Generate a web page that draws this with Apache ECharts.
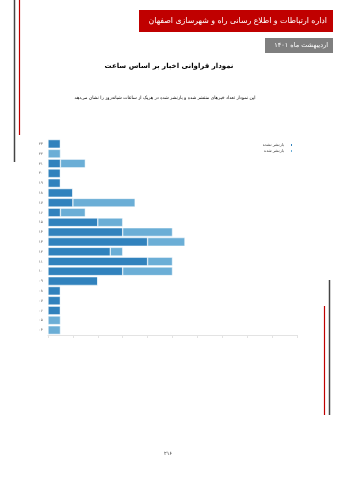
<!DOCTYPE html>
<html><head><meta charset="utf-8">
<script src="https://cdn.jsdelivr.net/npm/echarts@6/dist/echarts.min.js"></script>
<style>html,body{margin:0;padding:0;background:#fff}#c{width:339px;height:480px}</style>
</head><body><div id="c"></div>
<script>
// hours, top to bottom
var hours = ['۲۳','۲۲','۲۱','۲۰','۱۹','۱۸','۱۷','۱۶','۱۵','۱۴','۱۳','۱۲','۱۱','۱۰','۰۹','۰۸','۰۷','۰۶','۰۵','۰۴'];
var seriesNames = ['بازنشر نشده','بازنشر شده'];
var dark  = [1,0,1,1,1,2,2,1,4,6,8,5,8,6,4,1,1,1,0,0];
var light = [0,1,2,0,0,0,5,2,2,4,3,1,2,4,0,0,0,0,1,1];
var headerText = 'اداره ارتباطات و اطلاع رسانی راه و شهرسازی اصفهان';
var dateText = 'اردیبهشت ماه ۱۴۰۱';
var titleText = 'نمودار فراوانی اخبار بر اساس ساعت';
var subText = 'این نمودار تعداد خبرهای منتشر شده و بازنشر شده در هریک از ساعات شبانه‌روز را نشان می‌دهد';
var pageNum = '۲۱۶';

var F = 'DejaVu Sans';
var chart = echarts.init(document.getElementById('c'), null, {renderer:'canvas'});
chart.setOption({
  animation:false,
  textStyle:{fontFamily:F},
  graphic:[
    {type:'line', shape:{x1:14.5,y1:0,x2:14.5,y2:162}, style:{stroke:'#444',lineWidth:1.5}},
    {type:'line', shape:{x1:19.5,y1:0,x2:19.5,y2:135}, style:{stroke:'#c00000',lineWidth:1.2}},
    {type:'line', shape:{x1:329.5,y1:280,x2:329.5,y2:415}, style:{stroke:'#444',lineWidth:1.5}},
    {type:'line', shape:{x1:324.5,y1:306,x2:324.5,y2:415}, style:{stroke:'#c00000',lineWidth:1.2}},
    {type:'rect', shape:{x:139,y:10,width:194,height:22}, style:{fill:'#c00000'}},
    {type:'text', x:327, y:21, style:{text:headerText, fill:'#fff', font:'7.8px '+F, align:'right', verticalAlign:'middle'}},
    {type:'rect', shape:{x:265,y:38,width:68,height:15}, style:{fill:'#7f7f7f'}},
    {type:'text', x:328, y:45.5, style:{text:dateText, fill:'#fff', font:'6.5px '+F, align:'right', verticalAlign:'middle'}},
    {type:'text', x:169, y:66, style:{text:titleText, fill:'#000', font:'bold 7px '+F, align:'center', verticalAlign:'middle'}},
    {type:'text', x:165, y:98, style:{text:subText, fill:'#000', font:'4.5px '+F, align:'center', verticalAlign:'middle'}},
    {type:'text', x:168, y:454, style:{text:pageNum, fill:'#333', font:'5px '+F, align:'center', verticalAlign:'middle'}}
  ],
  legend:{
    right:40, top:137, orient:'vertical', align:'right', itemGap:0,
    itemWidth:3, itemHeight:4,
    textStyle:{fontSize:4, color:'#333', fontFamily:F, padding:[0,1,0,0]},
    data:seriesNames
  },
  grid:{left:48, right:42, top:139, bottom:145, containLabel:false},
  xAxis:{type:'value', min:0, max:20, interval:2,
    axisLabel:{show:false},
    axisLine:{show:true, lineStyle:{color:'#e3e3e3'}},
    axisTick:{show:true, length:3, lineStyle:{color:'#e3e3e3'}},
    splitLine:{show:false}},
  yAxis:{type:'category', data:hours, inverse:true,
    axisLine:{show:false}, axisTick:{show:false},
    axisLabel:{fontSize:4, color:'#666', margin:5, fontFamily:F}},
  series:[
    {name:seriesNames[0], type:'bar', stack:'a', data:dark, barCategoryGap:'12%',
     itemStyle:{color:'#3182bd', borderColor:'#fff', borderWidth:0.5}},
    {name:seriesNames[1], type:'bar', stack:'a', data:light, barCategoryGap:'12%',
     itemStyle:{color:'#6baed6', borderColor:'#fff', borderWidth:0.5}}
  ]
});
</script></body></html>
